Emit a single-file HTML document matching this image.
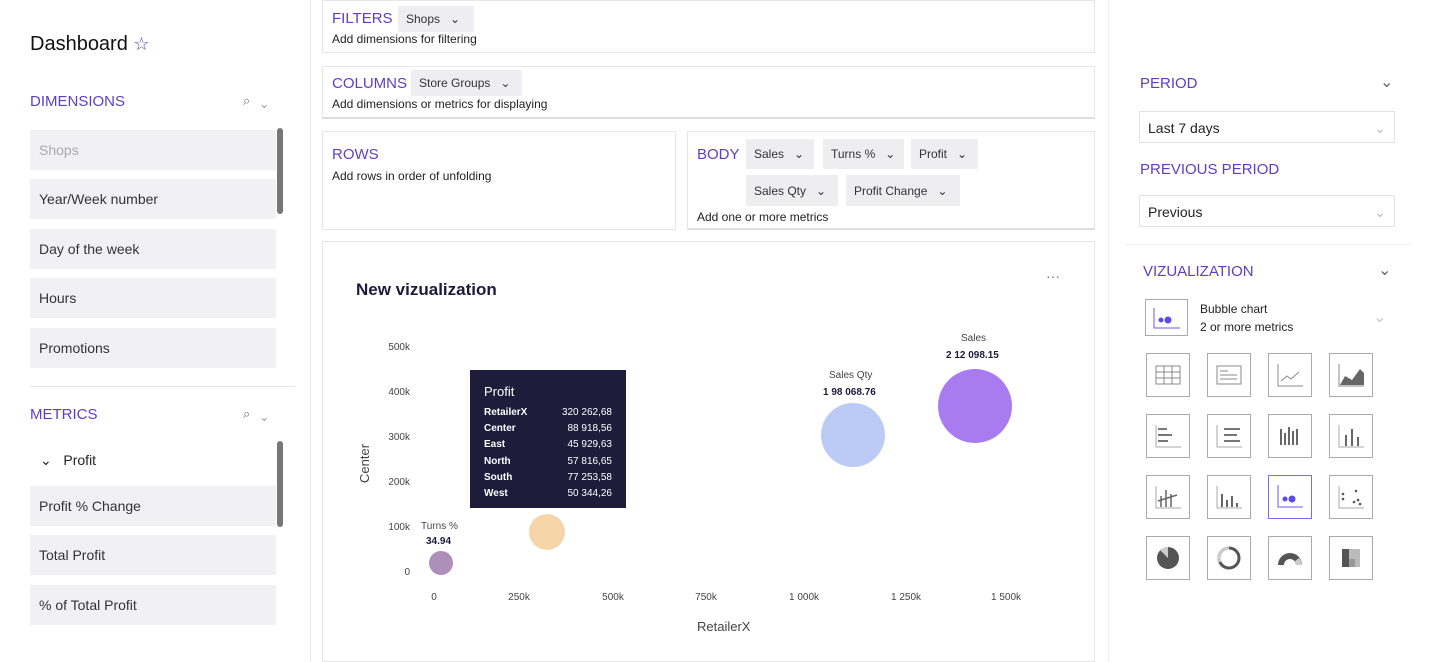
<!DOCTYPE html>
<html><head><meta charset="utf-8"><style>
*{box-sizing:border-box;margin:0;padding:0}
body{width:1429px;height:662px;background:#fff;font-family:"Liberation Sans",sans-serif;position:relative;overflow:hidden;color:#222}
.a{position:absolute}
.h{color:#5b3fc4;font-size:15px}
.item{position:absolute;left:30px;width:246px;height:40px;background:#f1f1f3;font-size:14px;color:#333;padding:12px 9px}
.chip{position:absolute;height:26px;background:#eeeef0;font-size:12px;color:#333;padding:6px 8px;white-space:nowrap}
.box{position:absolute;border:1px solid #e6e6ea;background:#fff}
.s{font-size:12px;color:#222}
.ic{position:absolute;width:44px;height:44px;border:1px solid #aaa;background:#fff}
.ic svg{display:block}
.yl{position:absolute;font-size:10px;color:#444;text-align:right;width:40px}
.xl{position:absolute;font-size:10px;color:#444;width:60px;text-align:center}
</style></head><body>
<div class="a" style="left:310px;top:0;width:1px;height:662px;background:#e8e8ea"></div>
<div class="a" style="left:1108px;top:0;width:1px;height:662px;background:#f0f0f2"></div>
<div class="a" style="left:30px;top:33px;font-size:20px;color:#111">Dashboard <span style="color:#5b3fc4;font-size:18px">☆</span></div>
<div class="a h" style="left:30px;top:93px">DIMENSIONS</div>
<div class="a" style="left:243px;top:93px;color:#777;font-size:13px">⌕ &nbsp; ⌄</div>
<div class="item" style="top:130px;color:#aaa">Shops</div>
<div class="item" style="top:179px">Year/Week number</div>
<div class="item" style="top:229px">Day of the week</div>
<div class="item" style="top:278px">Hours</div>
<div class="item" style="top:328px">Promotions</div>
<div class="a" style="left:277px;top:128px;width:6px;height:86px;background:#777;border-radius:3px"></div>
<div class="a" style="left:30px;top:386px;width:265px;height:1px;background:#e6e6e8"></div>
<div class="a h" style="left:30px;top:406px">METRICS</div>
<div class="a" style="left:243px;top:406px;color:#777;font-size:13px">⌕ &nbsp; ⌄</div>
<div class="a" style="left:40px;top:452px;font-size:14px">⌄ &nbsp; Profit</div>
<div class="item" style="top:486px">Profit % Change</div>
<div class="item" style="top:535px">Total Profit</div>
<div class="item" style="top:585px">% of Total Profit</div>
<div class="a" style="left:277px;top:441px;width:6px;height:86px;background:#777;border-radius:3px"></div>

<div class="box" style="left:322px;top:0;width:773px;height:53px"></div>
<div class="a h" style="left:332px;top:10px">FILTERS</div><div class="chip" style="left:398px;top:6px;width:76px">Shops &nbsp; ⌄</div>
<div class="a s" style="left:332px;top:32px">Add dimensions for filtering</div>
<div class="box" style="left:322px;top:66px;width:773px;height:53px;border-bottom:2px solid #ddd"></div>
<div class="a h" style="left:332px;top:75px">COLUMNS</div><div class="chip" style="left:411px;top:70px;width:111px">Store Groups &nbsp; ⌄</div>
<div class="a s" style="left:332px;top:97px">Add dimensions or metrics for displaying</div>
<div class="box" style="left:322px;top:131px;width:354px;height:99px"></div>
<div class="a h" style="left:332px;top:146px">ROWS</div>
<div class="a s" style="left:332px;top:169px">Add rows in order of unfolding</div>
<div class="box" style="left:687px;top:131px;width:408px;height:99px;border-bottom:2px solid #ddd"></div>
<div class="a h" style="left:697px;top:146px">BODY</div>
<div class="chip" style="left:746px;top:139px;height:30px;padding-top:8px;width:68px">Sales &nbsp; ⌄</div>
<div class="chip" style="left:823px;top:139px;height:30px;padding-top:8px;width:81px">Turns % &nbsp; ⌄</div>
<div class="chip" style="left:911px;top:139px;height:30px;padding-top:8px;width:67px">Profit &nbsp; ⌄</div>
<div class="chip" style="left:746px;top:175px;height:31px;padding-top:9px;width:92px">Sales Qty &nbsp; ⌄</div>
<div class="chip" style="left:846px;top:175px;height:31px;padding-top:9px;width:114px">Profit Change &nbsp; ⌄</div>
<div class="a s" style="left:697px;top:210px">Add one or more metrics</div>

<div class="box" style="left:322px;top:241px;width:773px;height:421px"></div>
<div class="a" style="left:356px;top:280px;font-size:17px;font-weight:bold;color:#1c1a3a">New vizualization</div>
<div class="a" style="left:1046px;top:268px;color:#777;font-size:14px">···</div>
<div class="yl" style="left:370px;top:342px">500k</div>
<div class="yl" style="left:370px;top:387px">400k</div>
<div class="yl" style="left:370px;top:432px">300k</div>
<div class="yl" style="left:370px;top:477px">200k</div>
<div class="yl" style="left:370px;top:522px">100k</div>
<div class="yl" style="left:370px;top:567px">0</div>
<div class="a" style="left:357px;font-size:13px;color:#444;transform:rotate(-90deg);transform-origin:left top;top:483px">Center</div>
<div class="xl" style="left:404px;top:592px">0</div>
<div class="xl" style="left:489px;top:592px">250k</div>
<div class="xl" style="left:583px;top:592px">500k</div>
<div class="xl" style="left:676px;top:592px">750k</div>
<div class="xl" style="left:774px;top:592px">1 000k</div>
<div class="xl" style="left:876px;top:592px">1 250k</div>
<div class="xl" style="left:976px;top:592px">1 500k</div>
<div class="a" style="left:697px;top:619px;font-size:13px;color:#444">RetailerX</div>
<svg class="a" style="left:0;top:0" width="1429" height="662">
<circle cx="441" cy="563" r="12" fill="#a07aae" opacity=".85"/>
<circle cx="547" cy="532" r="18" fill="#f6d5a8"/>
<circle cx="853" cy="435" r="32" fill="#bccbf6"/>
<circle cx="975" cy="406" r="37" fill="#a87cf0"/>
</svg>
<div class="a" style="left:421px;top:521px;font-size:10px;color:#444">Turns %</div>
<div class="a" style="left:426px;top:536px;font-size:10px;font-weight:bold;color:#1c1a3a">34.94</div>
<div class="a" style="left:829px;top:370px;font-size:10px;color:#444">Sales Qty</div>
<div class="a" style="left:823px;top:387px;font-size:10px;font-weight:bold;color:#1c1a3a">1 98 068.76</div>
<div class="a" style="left:961px;top:333px;font-size:10px;color:#444">Sales</div>
<div class="a" style="left:946px;top:350px;font-size:10px;font-weight:bold;color:#1c1a3a">2 12 098.15</div>
<div class="a" style="left:470px;top:370px;width:156px;height:138px;background:#1e1c3a;color:#fff;padding:14px 14px">
<div style="font-size:13px;margin-bottom:6px">Profit</div>
<div style="font-size:10px;line-height:16.2px;display:flex;justify-content:space-between"><b>RetailerX<br>Center<br>East<br>North<br>South<br>West</b><span style="text-align:right">320 262,68<br>88 918,56<br>45 929,63<br>57 816,65<br>77 253,58<br>50 344,26</span></div></div>

<div class="a h" style="left:1140px;top:75px">PERIOD</div><div class="a" style="left:1380px;top:72px;color:#666">⌄</div>
<div class="a" style="left:1139px;top:111px;width:256px;height:32px;border:1px solid #e2e2e6;font-size:14px;padding:8px;">Last 7 days<span style="float:right;color:#bbb">⌄</span></div>
<div class="a h" style="left:1140px;top:161px">PREVIOUS PERIOD</div>
<div class="a" style="left:1139px;top:195px;width:256px;height:32px;border:1px solid #e2e2e6;font-size:14px;padding:8px;">Previous<span style="float:right;color:#bbb">⌄</span></div>
<div class="a" style="left:1125px;top:244px;width:285px;height:1px;background:#eee"></div>
<div class="a h" style="left:1143px;top:263px">VIZUALIZATION</div><div class="a" style="left:1378px;top:260px;color:#666">⌄</div>
<div class="ic" style="left:1145px;top:299px;width:43px;height:37px"><svg width="41" height="35"><path d="M8 8V28H34" stroke="#6a5af5" fill="none"/><circle cx="15" cy="20" r="2.5" fill="#5b4cf0"/><circle cx="22" cy="20" r="3.5" fill="#5b4cf0"/></svg></div>
<div class="a" style="left:1200px;top:302px;font-size:12px">Bubble chart</div>
<div class="a" style="left:1200px;top:320px;font-size:12px">2 or more metrics</div>
<div class="a" style="left:1373px;top:307px;color:#ccc">⌄</div>

<div class="ic" style="left:1146px;top:353px"><svg width="42" height="42" stroke="#888" fill="none"><rect x="9" y="12" width="24" height="18"/><path d="M9 18H33M9 24H33M17 12V30M25 12V30"/></svg></div>
<div class="ic" style="left:1207px;top:353px"><svg width="42" height="42" stroke="#888" fill="none"><rect x="9" y="12" width="24" height="18"/><path d="M12 17H20M12 21H29M12 25H29"/></svg></div>
<div class="ic" style="left:1268px;top:353px"><svg width="42" height="42" stroke="#888" fill="none"><path d="M9 10V32H34M12 27L18 22 22 25 30 18"/></svg></div>
<div class="ic" style="left:1329px;top:353px"><svg width="42" height="42"><path d="M9 10V32H34" stroke="#888" fill="none"/><path d="M10 31L15 22 22 26 30 15 34 19V31Z" fill="#666"/></svg></div>

<div class="ic" style="left:1146px;top:414px"><svg width="42" height="42" stroke="#777" fill="none"><path d="M9 10V32H34" stroke="#aaa"/><path d="M11 14H20M11 20H25M11 26H21" stroke-width="2"/></svg></div>
<div class="ic" style="left:1207px;top:414px"><svg width="42" height="42" stroke="#777" fill="none"><path d="M9 10V32H34" stroke="#aaa"/><path d="M16 14H32M16 20H29M16 26H32" stroke-width="2"/></svg></div>
<div class="ic" style="left:1268px;top:414px"><svg width="42" height="42" stroke="#666" fill="none" stroke-width="2"><path d="M12 14V30M16 18V30M20 12V30M24 16V30M28 14V30"/></svg></div>
<div class="ic" style="left:1329px;top:414px"><svg width="42" height="42" stroke="#666" fill="none"><path d="M9 10V32H34" stroke="#aaa"/><path d="M16 20V31M22 14V31M28 22V31" stroke-width="2"/></svg></div>

<div class="ic" style="left:1146px;top:475px"><svg width="42" height="42" stroke="#666" fill="none"><path d="M9 10V32H34" stroke="#aaa"/><path d="M14 20V31M19 14V31M24 18V31M11 25L30 19" stroke-width="1.5"/></svg></div>
<div class="ic" style="left:1207px;top:475px"><svg width="42" height="42" stroke="#666" fill="none"><path d="M9 10V32H34" stroke="#aaa"/><path d="M14 18V31M19 24V31M24 20V31M29 27V31" stroke-width="2"/></svg></div>
<div class="ic" style="left:1268px;top:475px;border-color:#7a6cf0"><svg width="42" height="42"><path d="M9 9V31H34" stroke="#6a5af5" fill="none"/><circle cx="16" cy="23" r="2.5" fill="#5b4cf0"/><circle cx="23" cy="23" r="3.5" fill="#5b4cf0"/></svg></div>
<div class="ic" style="left:1329px;top:475px"><svg width="42" height="42" fill="#555"><path d="M9 10V32H34" stroke="#aaa" fill="none"/><circle cx="13" cy="18" r="1.3"/><circle cx="13" cy="23" r="1.3"/><circle cx="26" cy="15" r="1.3"/><circle cx="24" cy="26" r="1.3"/><circle cx="28" cy="24" r="1.3"/><circle cx="30" cy="28" r="1.3"/></svg></div>

<div class="ic" style="left:1146px;top:536px"><svg width="42" height="42"><circle cx="21" cy="21" r="11" fill="#555"/><path d="M21 21V10A11 11 0 0 0 13 13Z" fill="#ccc"/></svg></div>
<div class="ic" style="left:1207px;top:536px"><svg width="42" height="42"><circle cx="21" cy="21" r="10" stroke="#555" stroke-width="3" fill="none"/><path d="M21 11A10 10 0 0 0 12 25" stroke="#ccc" stroke-width="3" fill="none"/></svg></div>
<div class="ic" style="left:1268px;top:536px"><svg width="42" height="42"><path d="M9 28A12 12 0 0 1 33 28H27A6 6 0 0 0 15 28Z" fill="#555"/><path d="M30 21A12 12 0 0 1 33 28H27A6 6 0 0 0 26 24Z" fill="#ccc"/></svg></div>
<div class="ic" style="left:1329px;top:536px"><svg width="42" height="42"><rect x="12" y="12" width="7" height="18" fill="#555"/><rect x="19" y="12" width="11" height="18" fill="#bbb"/><rect x="19" y="22" width="6" height="8" fill="#999"/></svg></div>
</body></html>
